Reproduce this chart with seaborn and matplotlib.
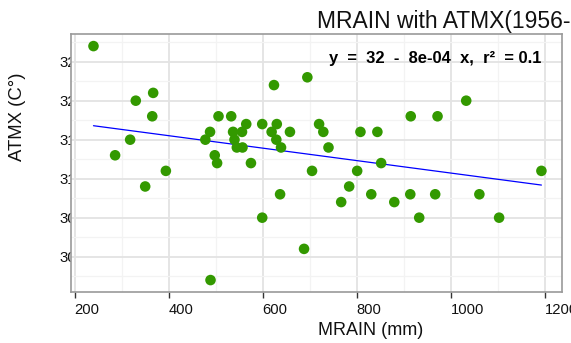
import numpy as np
import pandas as pd
import matplotlib
matplotlib.use("Agg")
import matplotlib.pyplot as plt
import seaborn as sns
from matplotlib.transforms import Bbox, TransformedBbox
from matplotlib.ticker import MultipleLocator

# ---- data ----
mrain = [240, 330, 367, 365, 318, 286, 350, 394, 478, 488, 498, 503, 506, 489,
         533, 537, 540, 545, 556, 557, 565, 575, 599, 599, 619, 624, 629, 630,
         637, 639, 658, 688, 695, 705, 720, 729, 740, 767, 784, 801, 808, 831,
         844, 852, 880, 914, 915, 933, 967, 972, 1033, 1061, 1103, 1193]
atmx = [32.7, 32.0, 32.1, 31.8, 31.5, 31.3, 30.9, 31.1, 31.5, 31.6, 31.3, 31.2, 31.8, 29.7,
        31.8, 31.6, 31.5, 31.4, 31.6, 31.4, 31.7, 31.2, 31.7, 30.5, 31.6, 32.2, 31.5, 31.7,
        30.8, 31.4, 31.6, 30.1, 32.3, 31.1, 31.7, 31.6, 31.4, 30.7, 30.9, 31.1, 31.6, 30.8,
        31.6, 31.2, 30.7, 30.8, 31.8, 30.5, 30.8, 31.8, 32.0, 30.8, 30.5, 31.1]
x_ticks = [200, 400, 600, 800, 1000, 1200]
x_tick_labels = ["200", "400", "600", "800", "1000", "1200"]
y_ticks = [30.0, 30.5, 31.0, 31.5, 32.0, 32.5]
y_tick_labels = ["30.0", "30.5", "31.0", "31.5", "32.0", "32.5"]
title_text = "MRAIN with ATMX(1956-2009)"
eq_text = "y  =  32  -  8e-04  x,  r\u00b2  = 0.1"
x_label = "MRAIN (mm)"
y_label = "ATMX (C\u00b0)"

sns.set_theme(style="whitegrid")
plt.rcParams['font.family'] = ['Liberation Sans', 'DejaVu Sans']

W, H = 571, 343
fig = plt.figure(figsize=(W / 100, H / 100), dpi=100)
fig.patch.set_facecolor("white")
L, R, T, B = 70.5, 562, 34, 292
ax = fig.add_axes([L / W, (H - B) / H, (R - L) / W, (B - T) / H])
ax.set_facecolor("white")

df = pd.DataFrame({"MRAIN": mrain, "ATMX": atmx})
sns.regplot(data=df, x="MRAIN", y="ATMX", scatter=False, ci=None,
            color="#0000FF", line_kws=dict(lw=0.9), ax=ax)
sns.scatterplot(data=df, x="MRAIN", y="ATMX", color="#339900", s=58,
                edgecolor="none", linewidth=0, ax=ax, zorder=3)

ax.set_xlim(191.1, 1236.8)
ax.set_ylim(29.547, 32.855)
ax.set_xticks(x_ticks)
ax.set_xticklabels(x_tick_labels)
ax.set_yticks(y_ticks)
ax.set_yticklabels(y_tick_labels)
ax.xaxis.set_minor_locator(MultipleLocator(100))
ax.yaxis.set_minor_locator(MultipleLocator(0.25))

ax.grid(which="major", color="#E3E3E3", lw=1.3)
ax.grid(which="minor", color="#F3F3F3", lw=0.9)
ax.set_axisbelow(True)

for s in ax.spines.values():
    s.set_visible(True)
    s.set_color("#9A9A9A")
    s.set_linewidth(1.2)

ax.tick_params(axis="x", which="major", bottom=True, length=4, width=1,
               color="#333333", labelsize=10.6, labelcolor="#111111", pad=4)
ax.tick_params(axis="y", which="major", left=False, length=0,
               labelsize=10.8, labelcolor="#111111", pad=8.3)
ax.tick_params(which="minor", length=0)
for lbl in ax.get_xticklabels():
    lbl.set_ha("left")
clip = TransformedBbox(Bbox.from_extents(-1, -1, 0, 2), ax.transAxes)
for t in ax.yaxis.get_major_ticks():
    t.label1.set_ha("left")
    t.label1.set_clip_box(clip)
    t.label1.set_clip_on(True)

ax.set_xlabel(x_label, fontsize=13, ha="left", va="top", color="#111111")
ax.xaxis.set_label_coords((318 - L) / (R - L), -(322 - B) / (B - T))
ax.set_ylabel(y_label, fontsize=13.3, ha="center", va="center", color="#111111")
ax.yaxis.set_label_coords((18 - L) / (R - L), (B - 117) / (B - T))

ax.set_title(title_text, fontsize=16.5, x=(317.3 - L) / (R - L), ha="left",
             va="baseline", pad=4.1, color="#111111")

fig.text(329.3 / W, 1 - 63.3 / H, eq_text, ha="left", va="baseline",
         fontsize=11.9, fontweight="bold", color="black")

fig.savefig("out.png", dpi=100)
